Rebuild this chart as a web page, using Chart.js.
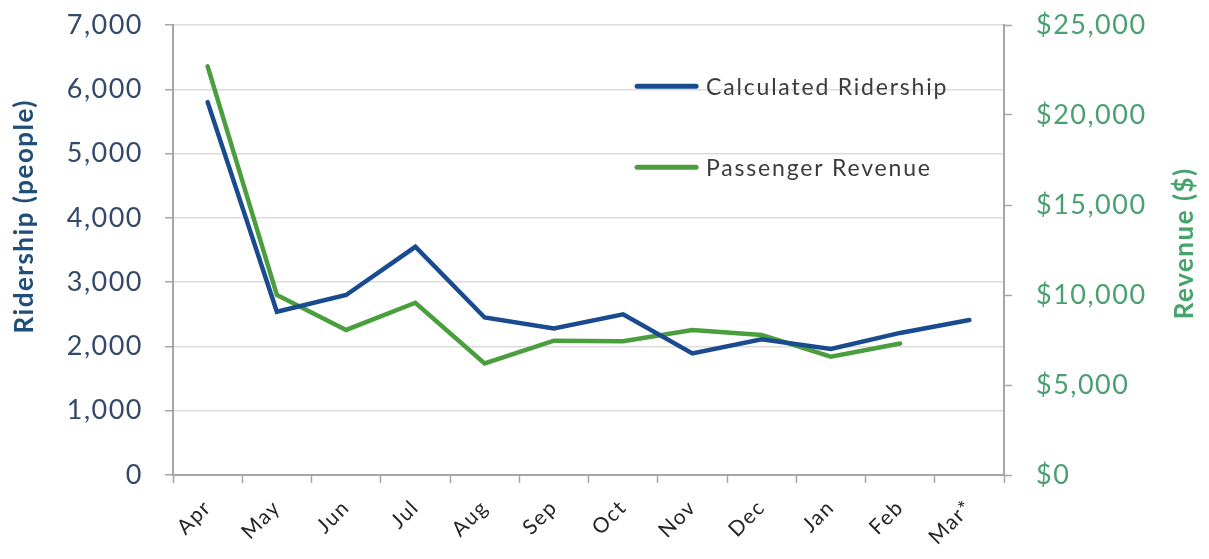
<!DOCTYPE html>
<html>
<head>
<meta charset="utf-8">
<script src="https://cdn.jsdelivr.net/npm/chart.js@4.4.1/dist/chart.umd.min.js"></script>
<style>
  html, body { margin: 0; padding: 0; background: #ffffff; }
  #wrap { width: 1209px; height: 559px; position: relative; }
</style>
</head>
<body>
<div id="wrap"><canvas id="c" width="1209" height="559"></canvas></div>
<script>
const months = ['Apr', 'May', 'Jun', 'Jul', 'Aug', 'Sep', 'Oct', 'Nov', 'Dec', 'Jan', 'Feb', 'Mar*'];
const ridership = [5800, 2540, 2800, 3550, 2450, 2280, 2500, 1890, 2110, 1960, 2210, 2410];
const revenue = [22700, 10000, 8060, 9570, 6200, 7460, 7430, 8060, 7780, 6570, 7310, null];
const seriesNames = ['Calculated Ridership', 'Passenger Revenue'];
const leftTitle = 'Ridership (people)';
const rightTitle = 'Revenue ($)';

const BLUE = '#1B4B8F';
const GREEN = '#4B9E3E';
const FONT = 'Lato, "Open Sans", sans-serif';
const SPACING = '1.5px';

const spacingPlugin = {
  id: 'spacing',
  beforeLayout(chart) { chart.ctx.letterSpacing = SPACING; },
  beforeDraw(chart) { chart.ctx.letterSpacing = SPACING; }
};

const legendPlugin = {
  id: 'innerLegend',
  afterDraw(chart) {
    const ctx = chart.ctx;
    const a = chart.chartArea;
    const x0 = a.left + (a.right - a.left) * 0.5585;
    const x1 = x0 + 59;
    const rows = [a.top + (a.bottom - a.top) * 0.136, a.top + (a.bottom - a.top) * 0.316];
    ctx.save();
    chart.data.datasets.forEach((ds, i) => {
      const y = rows[i];
      ctx.strokeStyle = ds.borderColor;
      ctx.lineWidth = 5;
      ctx.lineCap = 'round';
      ctx.beginPath();
      ctx.moveTo(x0, y);
      ctx.lineTo(x1, y);
      ctx.stroke();
      ctx.fillStyle = '#3C3C3C';
      ctx.font = '23px ' + FONT;
      ctx.letterSpacing = '1.8px';
      ctx.textAlign = 'left';
      ctx.textBaseline = 'middle';
      ctx.fillText(ds.label, x1 + 10, y + 1);
    });
    ctx.restore();
  }
};

const axisTitlePlugin = {
  id: 'axisTitles',
  afterDraw(chart) {
    const ctx = chart.ctx;
    const a = chart.chartArea;
    const h = a.bottom - a.top;
    const draw = (text, x, y, color) => {
      ctx.save();
      ctx.translate(x, y);
      ctx.rotate(-Math.PI / 2);
      ctx.fillStyle = color;
      ctx.font = 'bold 26px ' + FONT;
      ctx.letterSpacing = '1.5px';
      ctx.textAlign = 'center';
      ctx.textBaseline = 'middle';
      ctx.fillText(text, 0, 0);
      ctx.restore();
    };
    draw(leftTitle, 25, a.top + h * 0.425, '#1F4E79');
    draw(rightTitle, chart.width - 24, a.top + h * 0.485, '#45A46A');
  }
};

function noOverflow(scale) {
  scale.paddingTop = 0;
  scale.paddingBottom = 0;
  scale.paddingLeft = 0;
  scale.paddingRight = 0;
}

new Chart(document.getElementById('c'), {
  type: 'line',
  data: {
    labels: months,
    datasets: [
      {
        label: seriesNames[0],
        data: ridership,
        yAxisID: 'y',
        borderColor: BLUE,
        backgroundColor: BLUE,
        borderWidth: 4.5,
        pointRadius: 0,
        tension: 0,
        borderJoinStyle: 'miter',
        borderCapStyle: 'round'
      },
      {
        label: seriesNames[1],
        data: revenue,
        yAxisID: 'y1',
        borderColor: GREEN,
        backgroundColor: GREEN,
        borderWidth: 4.5,
        pointRadius: 0,
        tension: 0,
        spanGaps: false,
        borderJoinStyle: 'miter',
        borderCapStyle: 'round'
      }
    ]
  },
  options: {
    responsive: false,
    animation: false,
    devicePixelRatio: 1,
    layout: { padding: { top: 25, left: 0, right: 0, bottom: 0 } },
    plugins: {
      legend: { display: false },
      tooltip: { enabled: false }
    },
    scales: {
      x: {
        type: 'category',
        offset: true,
        grid: {
          offset: true,
          drawOnChartArea: false,
          drawTicks: true,
          tickLength: 8,
          tickColor: '#A6A6A6',
          tickWidth: 1.5
        },
        border: { color: '#A6A6A6', width: 2 },
        ticks: {
          minRotation: 45,
          maxRotation: 45,
          padding: 12,
          color: '#252525',
          font: { family: FONT, size: 21 }
        },
        afterFit(scale) { scale.height = 84; noOverflow(scale); }
      },
      y: {
        position: 'left',
        min: 0,
        max: 7000,
        ticks: {
          stepSize: 1000,
          padding: 22,
          color: '#34496A',
          font: { family: FONT, size: 27 },
          callback: v => v.toLocaleString('en-US')
        },
        grid: {
          color: '#DCDCDC',
          lineWidth: 1.5,
          tickLength: 8,
          tickColor: '#A6A6A6',
          tickWidth: 1.5
        },
        border: { color: '#A6A6A6', width: 2 },
        title: { display: false },
        afterFit(scale) { scale.width = 173; noOverflow(scale); }
      },
      y1: {
        position: 'right',
        min: 0,
        max: 25000,
        ticks: {
          stepSize: 5000,
          padding: 24,
          color: '#4AA070',
          font: { family: FONT, size: 27 },
          callback: v => '$' + v.toLocaleString('en-US')
        },
        grid: {
          drawOnChartArea: false,
          tickLength: 8,
          tickColor: '#A6A6A6',
          tickWidth: 1.5
        },
        border: { color: '#A6A6A6', width: 2 },
        afterFit(scale) { scale.width = 205; noOverflow(scale); }
      }
    }
  },
  plugins: [spacingPlugin, legendPlugin, axisTitlePlugin]
});
</script>
</body>
</html>
